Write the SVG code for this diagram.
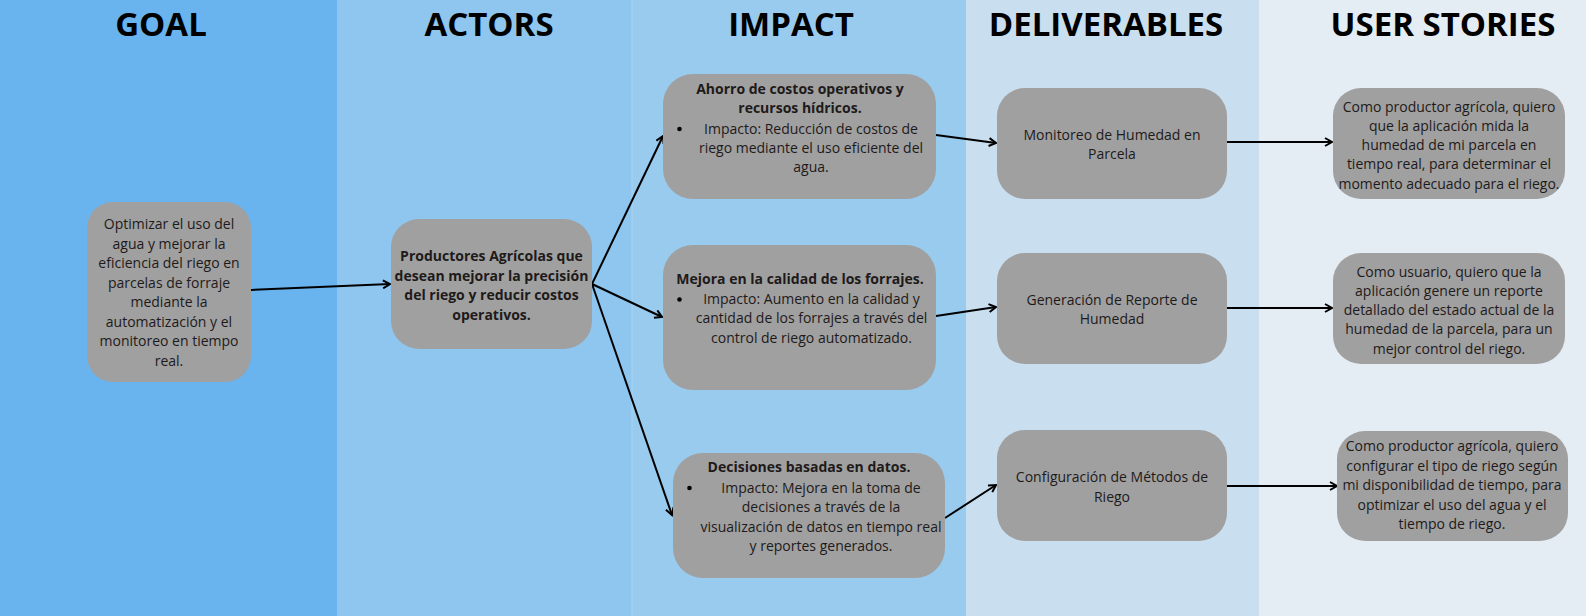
<svg xmlns="http://www.w3.org/2000/svg" width="1586" height="616" viewBox="0 0 1586 616">
<style>
.hdr{font-family:"Open Sans","Liberation Sans",sans-serif;font-weight:700;font-size:33px;fill:#000;text-anchor:middle}
.box{fill:#a0a0a0}
.t{font-family:"Open Sans","Liberation Sans",sans-serif;font-size:14px;fill:#1e1a1a;text-anchor:middle}
.b{font-weight:700}
.conn line{stroke:#000;stroke-width:2;marker-end:url(#arr)}
</style>
<defs>
<marker id="arr" markerWidth="10" markerHeight="10" refX="8" refY="5" orient="auto" markerUnits="userSpaceOnUse">
<path d="M1,1 L8,5 L1,9" fill="none" stroke="#000" stroke-width="2"/>
</marker>
</defs>
<g id="lanes">
<rect x="0" y="0" width="337" height="616" fill="#69b4ee"/>
<rect x="337" y="0" width="295" height="616" fill="#8ec6ef"/>
<rect x="632" y="0" width="334" height="616" fill="#99cbef"/>
<rect x="966" y="0" width="293" height="616" fill="#c9dff0"/>
<rect x="1259" y="0" width="327" height="616" fill="#e4ecf4"/>
<line x1="632" y1="0" x2="632" y2="616" stroke="#a9d3f2" stroke-width="1"/>
<text class="hdr" x="161" y="36">GOAL</text>
<text class="hdr" x="489" y="36">ACTORS</text>
<text class="hdr" x="791" y="36">IMPACT</text>
<text class="hdr" x="1106" y="36">DELIVERABLES</text>
<text class="hdr" x="1443" y="36">USER STORIES</text>
</g>
<g class="conn" id="connectors">
<line x1="251" y1="290" x2="390" y2="284"/>
<line x1="592" y1="284" x2="663" y2="136"/>
<line x1="592" y1="284" x2="662" y2="317"/>
<line x1="592" y1="284" x2="672" y2="515"/>
<line x1="936" y1="135" x2="996" y2="143"/>
<line x1="936" y1="316" x2="996" y2="307"/>
<line x1="945" y1="518" x2="996" y2="485"/>
<line x1="1227" y1="142" x2="1332" y2="142"/>
<line x1="1227" y1="308" x2="1332" y2="308"/>
<line x1="1227" y1="486" x2="1337" y2="486"/>
</g>
<g id="goal">
<rect class="box" x="87" y="202" width="164" height="180" rx="26"/>
<text class="t" x="169" y="229">Optimizar el uso del</text>
<text class="t" x="169" y="248.5">agua y mejorar la</text>
<text class="t" x="169" y="268">eficiencia del riego en</text>
<text class="t" x="169" y="287.5">parcelas de forraje</text>
<text class="t" x="169" y="307">mediante la</text>
<text class="t" x="169" y="326.5">automatización y el</text>
<text class="t" x="169" y="346">monitoreo en tiempo</text>
<text class="t" x="169" y="365.5">real.</text>
</g>
<g id="actor">
<rect class="box" x="391" y="219" width="201" height="130" rx="28"/>
<text class="t b" x="491.5" y="261">Productores Agrícolas que</text>
<text class="t b" x="491.5" y="280.5">desean mejorar la precisión</text>
<text class="t b" x="491.5" y="300">del riego y reducir costos</text>
<text class="t b" x="491.5" y="319.5">operativos.</text>
</g>
<g id="impact1">
<rect class="box" x="663" y="74" width="273" height="125" rx="30"/>
<text class="t b" x="800" y="94">Ahorro de costos operativos y</text>
<text class="t b" x="800" y="113">recursos hídricos.</text>
<circle cx="679.5" cy="129" r="2.3" fill="#000"/>
<text class="t" x="811" y="133.5">Impacto: Reducción de costos de</text>
<text class="t" x="811" y="152.5">riego mediante el uso eficiente del</text>
<text class="t" x="811" y="171.5">agua.</text>
</g>
<g id="impact2">
<rect class="box" x="663" y="245" width="273" height="145" rx="30"/>
<text class="t b" x="800" y="284">Mejora en la calidad de los forrajes.</text>
<circle cx="679.5" cy="299.5" r="2.3" fill="#000"/>
<text class="t" x="811.5" y="304">Impacto: Aumento en la calidad y</text>
<text class="t" x="811.5" y="323">cantidad de los forrajes a través del</text>
<text class="t" x="811.5" y="342.5">control de riego automatizado.</text>
</g>
<g id="impact3">
<rect class="box" x="673" y="453" width="272" height="125" rx="30"/>
<text class="t b" x="809" y="472">Decisiones basadas en datos.</text>
<circle cx="689.5" cy="488" r="2.3" fill="#000"/>
<text class="t" x="821" y="492.5">Impacto: Mejora en la toma de</text>
<text class="t" x="821" y="511.5">decisiones a través de la</text>
<text class="t" x="821" y="531.5">visualización de datos en tiempo real</text>
<text class="t" x="821" y="551">y reportes generados.</text>
</g>
<g id="deliverable1">
<rect class="box" x="997" y="88" width="230" height="111" rx="28"/>
<text class="t" x="1112" y="140">Monitoreo de Humedad en</text>
<text class="t" x="1112" y="159">Parcela</text>
</g>
<g id="deliverable2">
<rect class="box" x="997" y="253" width="230" height="111" rx="28"/>
<text class="t" x="1112" y="305">Generación de Reporte de</text>
<text class="t" x="1112" y="324">Humedad</text>
</g>
<g id="deliverable3">
<rect class="box" x="997" y="430" width="230" height="111" rx="28"/>
<text class="t" x="1112" y="482">Configuración de Métodos de</text>
<text class="t" x="1112" y="501.5">Riego</text>
</g>
<g id="story1">
<rect class="box" x="1333" y="88" width="232" height="111" rx="28"/>
<text class="t" x="1449" y="111.5">Como productor agrícola, quiero</text>
<text class="t" x="1449" y="130.5">que la aplicación mida la</text>
<text class="t" x="1449" y="150">humedad de mi parcela en</text>
<text class="t" x="1449" y="169">tiempo real, para determinar el</text>
<text class="t" x="1449" y="188.5">momento adecuado para el riego.</text>
</g>
<g id="story2">
<rect class="box" x="1333" y="253" width="232" height="111" rx="28"/>
<text class="t" x="1449" y="276.5">Como usuario, quiero que la</text>
<text class="t" x="1449" y="295.5">aplicación genere un reporte</text>
<text class="t" x="1449" y="315">detallado del estado actual de la</text>
<text class="t" x="1449" y="334">humedad de la parcela, para un</text>
<text class="t" x="1449" y="353.5">mejor control del riego.</text>
</g>
<g id="story3">
<rect class="box" x="1337" y="431" width="231" height="110" rx="28"/>
<text class="t" x="1452" y="451">Como productor agrícola, quiero</text>
<text class="t" x="1452" y="470.5">configurar el tipo de riego según</text>
<text class="t" x="1452" y="490">mi disponibilidad de tiempo, para</text>
<text class="t" x="1452" y="509.5">optimizar el uso del agua y el</text>
<text class="t" x="1452" y="529">tiempo de riego.</text>
</g>
</svg>
